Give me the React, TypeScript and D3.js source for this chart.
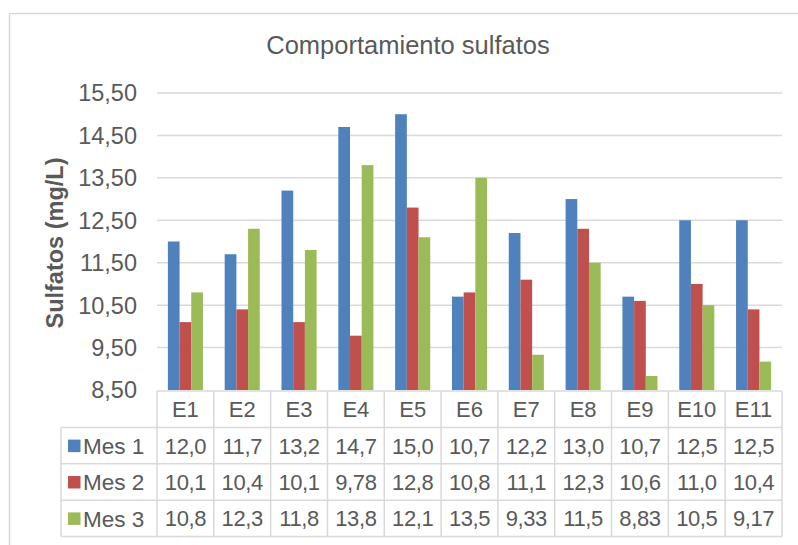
import * as d3 from "d3";

const categories = ["E1", "E2", "E3", "E4", "E5", "E6", "E7", "E8", "E9", "E10", "E11"];
const seriesNames = ["Mes 1", "Mes 2", "Mes 3"];
const mes1 = [12.0, 11.7, 13.2, 14.7, 15.0, 10.7, 12.2, 13.0, 10.7, 12.5, 12.5];
const mes2 = [10.1, 10.4, 10.1, 9.78, 12.8, 10.8, 11.1, 12.3, 10.6, 11.0, 10.4];
const mes3 = [10.8, 12.3, 11.8, 13.8, 12.1, 13.5, 9.33, 11.5, 8.83, 10.5, 9.17];
// how the data table shows each value
const mes1Labels = ["12,0", "11,7", "13,2", "14,7", "15,0", "10,7", "12,2", "13,0", "10,7", "12,5", "12,5"];
const mes2Labels = ["10,1", "10,4", "10,1", "9,78", "12,8", "10,8", "11,1", "12,3", "10,6", "11,0", "10,4"];
const mes3Labels = ["10,8", "12,3", "11,8", "13,8", "12,1", "13,5", "9,33", "11,5", "8,83", "10,5", "9,17"];
const yTicks = [8.5, 9.5, 10.5, 11.5, 12.5, 13.5, 14.5, 15.5];
const colors = ["#4F81BD", "#C0504D", "#9BBB59"];

const W = 798;
const H = 545;
const plot = { left: 157, right: 782, top: 93, bottom: 390 };
const legendLeft = 61;
const rowH = 36.4;
const textColor = "#595959";
const lineColor = "#d9d9d9";
const font = "'Liberation Sans', Arial, sans-serif";

export default function App() {
  const series = [mes1, mes2, mes3];
  const labels = [mes1Labels, mes2Labels, mes3Labels];

  const x = d3.scaleBand<string>().domain(categories).range([plot.left, plot.right]);
  const inner = d3
    .scaleBand<string>()
    .domain(seriesNames)
    .range([0, x.bandwidth()])
    .paddingInner(0)
    .paddingOuter(0.93);
  const y = d3.scaleLinear().domain([8.5, 15.5]).range([plot.bottom, plot.top]);
  const rows = d3
    .scaleBand<string>()
    .domain(["cat", ...seriesNames])
    .range([plot.bottom + 1, plot.bottom + 1 + rowH * 4]);
  const fmt = (v: number) => d3.format(".2f")(v).replace(".", ",");

  const tableBottom = rows.range()[1];

  return (
    <svg
      width={W}
      height={H}
      style={{ position: "fixed", left: 0, top: 0, background: "#fff" }}
      fontFamily={font}
    >
      <rect x={9.5} y={13.5} width={W} height={H} fill="#fff" stroke={lineColor} strokeWidth={1.5} />

      <text x={408} y={54} textAnchor="middle" fontSize={25.5} fill={textColor}>
        Comportamiento sulfatos
      </text>

      {yTicks.map((t) => (
        <g key={t}>
          {t > 8.5 && (
            <line x1={plot.left} x2={plot.right} y1={y(t)} y2={y(t)} stroke={lineColor} strokeWidth={1.5} />
          )}
          <text x={137} y={y(t)} dy="0.36em" textAnchor="end" fontSize={23.5} fill={textColor}>
            {fmt(t)}
          </text>
        </g>
      ))}

      <text
        transform={`translate(63,243) rotate(-90)`}
        textAnchor="middle"
        fontSize={23.5}
        fontWeight="bold"
        fill={textColor}
      >
        Sulfatos (mg/L)
      </text>

      {categories.map((c, i) =>
        series.map((s, j) => (
          <rect
            key={c + j}
            x={(x(c) ?? 0) + (inner(seriesNames[j]) ?? 0)}
            y={y(s[i])}
            width={inner.bandwidth()}
            height={plot.bottom - y(s[i])}
            fill={colors[j]}
          />
        ))
      )}

      {/* data table */}
      <g stroke={lineColor} strokeWidth={1.5} fill="none">
        <line x1={plot.left} x2={plot.right} y1={rows("cat")} y2={rows("cat")} />
        {seriesNames.map((n) => (
          <line key={n} x1={legendLeft} x2={plot.right} y1={rows(n)} y2={rows(n)} />
        ))}
        <line x1={legendLeft} x2={plot.right} y1={tableBottom} y2={tableBottom} />
        <line x1={legendLeft} x2={legendLeft} y1={rows("Mes 1")} y2={tableBottom} />
        {categories.map((c) => (
          <line key={c} x1={x(c)} x2={x(c)} y1={rows("cat")} y2={tableBottom} />
        ))}
        <line x1={plot.right} x2={plot.right} y1={rows("cat")} y2={tableBottom} />
      </g>

      {categories.map((c) => (
        <text
          key={c}
          x={(x(c) ?? 0) + x.bandwidth() / 2}
          y={(rows("cat") ?? 0) + rows.bandwidth() / 2}
          dy="0.36em"
          textAnchor="middle"
          fontSize={22}
          fill={textColor}
        >
          {c}
        </text>
      ))}

      {seriesNames.map((n, j) => {
        const cy = (rows(n) ?? 0) + rows.bandwidth() / 2;
        return (
          <g key={n}>
            <rect x={68} y={cy - 6} width={12.5} height={12.5} fill={colors[j]} />
            <text x={83} y={cy} dy="0.36em" fontSize={22.5} fill={textColor}>
              {n}
            </text>
            {categories.map((c, i) => (
              <text
                key={c}
                x={(x(c) ?? 0) + x.bandwidth() / 2}
                y={cy}
                dy="0.36em"
                textAnchor="middle"
                fontSize={22}
                fill={textColor}
                letterSpacing={-0.4}
              >
                {labels[j][i]}
              </text>
            ))}
          </g>
        );
      })}
    </svg>
  );
}
